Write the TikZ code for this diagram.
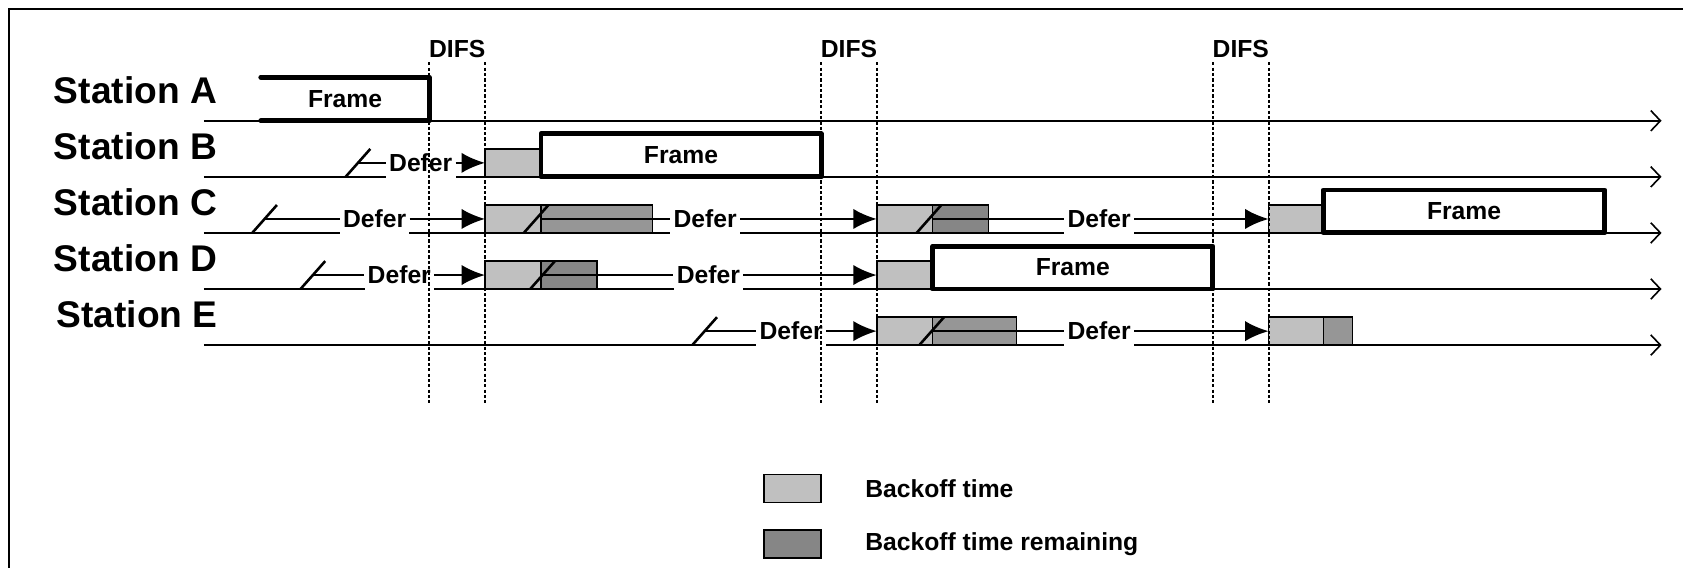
\documentclass[tikz,border=0pt]{standalone}
\usepackage{fontspec}
\setmainfont{Liberation Sans}
\usepackage{xcolor}
\usepackage{tikz}
\usetikzlibrary{arrows.meta}
\definecolor{bklight}{HTML}{C0C0C0}
\definecolor{bkmid}{HTML}{969696}
\definecolor{bkdark}{HTML}{868686}
\newcommand{\stfont}{\fontsize{34.6}{40}\selectfont\bfseries}
\newcommand{\smfont}{\fontsize{23}{27}\selectfont\bfseries}

\begin{document}
\begin{tikzpicture}
[
x=1pt,y=-1pt,
station/.style={font=\stfont,anchor=base west,inner sep=0pt},
lbl/.style={font=\smfont,inner sep=0pt},
tline/.style={line width=1.5pt,-{Straight Barb[length=9pt,width=19pt]}},
framebox/.style={draw,line width=4.6pt,line join=round,fill=white,minimum height=40pt,inner sep=0pt,outer sep=0pt,anchor=south west,font=\smfont},
bk/.style 2 args={draw,line width=1.4pt,fill=#2,minimum width=#1,minimum height=26pt,inner sep=0pt,outer sep=0pt,anchor=south west},
defer/.style={fill=white,font=\smfont,inner xsep=3pt,inner ysep=0pt,minimum height=30pt},
brk/.style={line width=2.4pt},
dline/.style={line width=2.4pt},
darr/.style={line width=2.4pt,-{Latex[length=22pt,width=19pt]}},
difs/.style={line width=1.7pt,dash pattern=on 3pt off 2pt},
]
\useasboundingbox (0,0) rectangle (1568,529);
\clip (0,0) rectangle (1568,529);
\draw[line width=2pt] (8,8) rectangle (1800,800);

%time lines
\foreach \s/\y in {A/112.5,B/164.75,C/217,D/269.25,E/321.5}{
  \coordinate (s\s) at (190,\y);
  \coordinate (e\s) at (1548,\y);
  \draw[tline] (s\s) -- (e\s);
}

%Place the nodes
\node[station] (stA) at (50,96.5) {Station A};
\node[station] (stB) at (50,148.75) {Station B};
\node[station] (stC) at (50,201) {Station C};
\node[station] (stD) at (50,253.25) {Station D};
\node[station] (stE) at (52.5,305.5) {Station E};

\node[defer] (dB1) at (392,151.75) {Defer};
\node[defer] (dC1) at (349,204) {Defer};
\node[defer] (dC2) at (657,204) {Defer};
\node[defer] (dC3) at (1024,204) {Defer};
\node[defer] (dD1) at (372,256.25) {Defer};
\node[defer] (dD2) at (660,256.25) {Defer};
\node[defer] (dE1) at (737,308.5) {Defer};
\node[defer] (dE2) at (1024,308.5) {Defer};

%station A
\node[framebox,draw=none,minimum width=157pt,minimum height=40.5pt] (fA) at (243,112.5) {Frame};
\draw[line width=4.6pt,line cap=round,line join=round] (fA.north west) -- (fA.north east) -- (fA.south east) -- (fA.south west);
%station B
\node[bk={52pt}{bklight}] (bB1) at (452,164.75) {};
\node[framebox,minimum width=261pt] (fB) at (504,164.75) {Frame};
%station C
\node[bk={52pt}{bklight}] (bC1) at (452,217) {};
\node[bk={104pt}{bkmid}] (bC1d) at (504,217) {};
\node[bk={52pt}{bklight}] (bC2) at (817,217) {};
\node[bk={52pt}{bkdark}] (bC2d) at (869,217) {};
\node[bk={51pt}{bklight}] (bC3) at (1182,217) {};
\node[framebox,minimum width=262pt] (fC) at (1233,217) {Frame};
%station D
\node[bk={52pt}{bklight}] (bD1) at (452,269.25) {};
\node[bk={52pt}{bkdark}] (bD1d) at (504,269.25) {};
\node[bk={52pt}{bklight}] (bD2) at (817,269.25) {};
\node[framebox,minimum width=261pt] (fD) at (869,269.25) {Frame};
%station E
\node[bk={52pt}{bklight}] (bE1) at (817,321.5) {};
\node[bk={78pt}{bkmid}] (bE1d) at (869,321.5) {};
\node[bk={51pt}{bklight}] (bE2) at (1182,321.5) {};
\node[bk={27pt}{bkmid}] (bE2d) at (1233,321.5) {};

%connections
\draw[brk] (322,164.75) -- coordinate[pos=.5] (kB) ++(23,-26);
\draw[dline] (kB) -- (dB1);
\draw[darr] (dB1) -- (bB1);

\draw[brk] (235,217) -- coordinate[pos=.5] (kC) ++(23,-26);
\draw[dline] (kC) -- (dC1);
\draw[darr] (dC1) -- (bC1);
\draw[brk] (488,217) -- ++(23,-26);
\draw[dline] (bC1.east) -- (dC2);
\draw[darr] (dC2) -- (bC2);
\draw[brk] (854,217) -- ++(23,-26);
\draw[dline] (bC2.east) -- (dC3);
\draw[darr] (dC3) -- (bC3);

\draw[brk] (280,269.25) -- coordinate[pos=.5] (kD) ++(23,-26);
\draw[dline] (kD) -- (dD1);
\draw[darr] (dD1) -- (bD1);
\draw[brk] (494,269.25) -- ++(23,-26);
\draw[dline] (bD1.east) -- (dD2);
\draw[darr] (dD2) -- (bD2);

\draw[brk] (645,321.5) -- coordinate[pos=.5] (kE) ++(23,-26);
\draw[dline] (kE) -- (dE1);
\draw[darr] (dE1) -- (bE1);
\draw[brk] (856.5,321.5) -- ++(23,-26);
\draw[dline] (bE1.east) -- (dE2);
\draw[darr] (dE2) -- (bE2);

%DIFS
\foreach \x [count=\i] in {400,452,765,817,1130,1182}{
  \coordinate (t\i) at (\x,58);
  \coordinate (u\i) at (\x,375);
  \draw[difs] (t\i) -- (u\i);
}
\node[lbl,anchor=base] (df1) at (426,54) {DIFS};
\node[lbl,anchor=base] (df2) at (791,54) {DIFS};
\node[lbl,anchor=base] (df3) at (1156,54) {DIFS};

%legend
\node[bk={53pt}{bklight}] (lg1) at (712,468) {};
\node[bk={53pt}{bkdark}] (lg2) at (712,520) {};
\node[lbl,anchor=west] (lt1) at (806,455.5) {Backoff time};
\node[lbl,anchor=west] (lt2) at (806,507) {Backoff time remaining};
\end{tikzpicture}
\end{document}
